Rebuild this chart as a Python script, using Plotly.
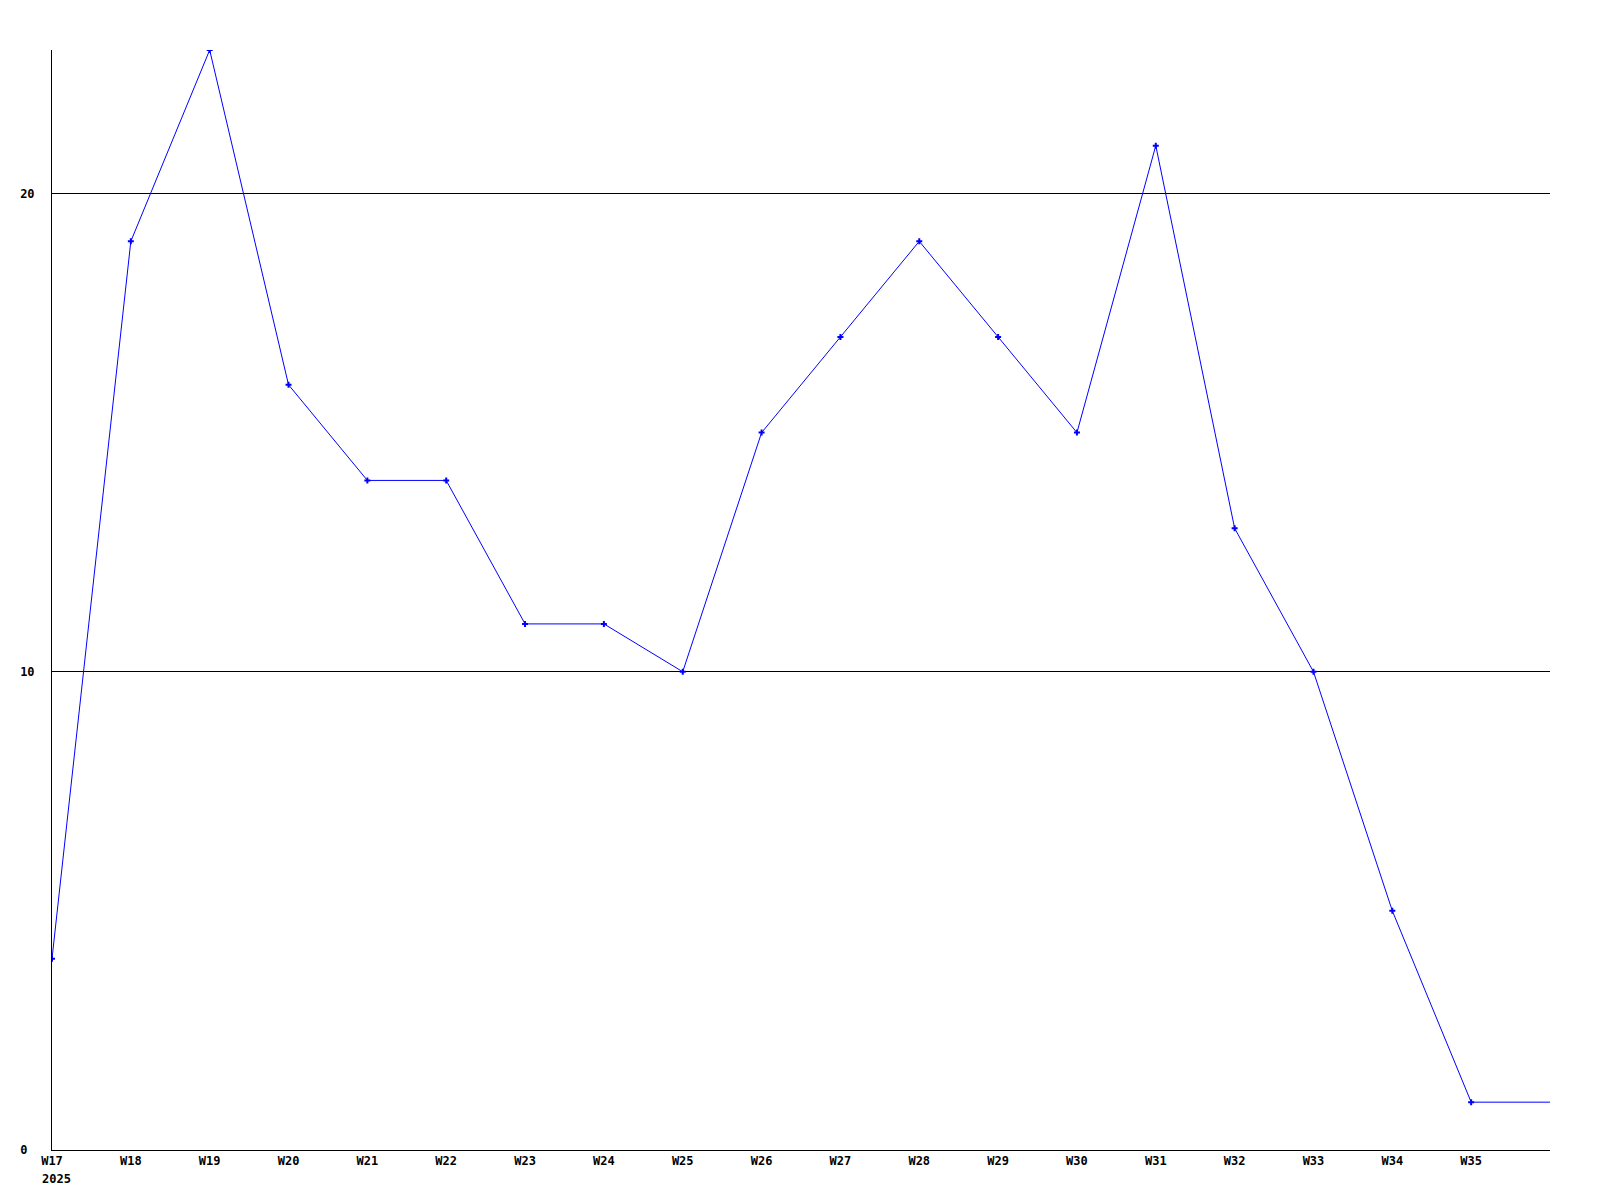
import plotly.graph_objects as go

weeks = ["W17", "W18", "W19", "W20", "W21", "W22", "W23", "W24", "W25", "W26",
         "W27", "W28", "W29", "W30", "W31", "W32", "W33", "W34", "W35", "W36"]
values = [4, 19, 23, 16, 14, 14, 11, 11, 10, 15, 17, 19, 17, 15, 21, 13, 10, 5, 1, 1]
year_label = "2025"
y_ticks = [0, 10, 20]

x_idx = list(range(len(weeks)))
FONT = dict(family="DejaVu Sans Mono", size=12, color="black")

fig = go.Figure()
# line across all weeks (last week partial, drawn without marker)
fig.add_trace(go.Scatter(
    x=x_idx, y=values, mode="lines",
    line=dict(color="#0000FF", width=1), hoverinfo="skip", showlegend=False))
fig.add_trace(go.Scatter(
    x=x_idx[:-1], y=values[:-1], mode="markers",
    marker=dict(symbol="cross", size=5, color="#0000FF", line=dict(width=0)),
    showlegend=False))

# page body has an 8px margin, so the figure is sized/placed to compensate
fig.update_layout(
    width=1592, height=1192,
    margin=dict(l=41, r=50, t=42, b=50),
    paper_bgcolor="white", plot_bgcolor="white",
    font=FONT,
    showlegend=False,
)
fig.update_xaxes(
    range=[0, len(weeks) - 1],
    tickmode="array", tickvals=x_idx[:-1], ticktext=[f"<b>{w}</b>" for w in weeks[:-1]],
    showgrid=False, zeroline=False,
    showline=True, linecolor="black", linewidth=1,
    ticks="", tickfont=FONT,
)
fig.update_yaxes(
    range=[0, 23],
    tickmode="array", tickvals=y_ticks,
    ticktext=[f"<b>{v}</b>" + ("\u00a0" if v < 10 else "") for v in y_ticks],
    showgrid=True, gridcolor="black", gridwidth=1,
    zeroline=False, showline=True, linecolor="black", linewidth=1,
    ticks="", tickfont=FONT, ticklabelstandoff=14,
)
fig.add_annotation(
    x=0, y=0, xref="x", yref="paper", text=f"<b>{year_label}</b>",
    showarrow=False, xanchor="left", yanchor="top", xshift=-12, yshift=-20,
    font=FONT,
)
fig.write_html("out.html")
